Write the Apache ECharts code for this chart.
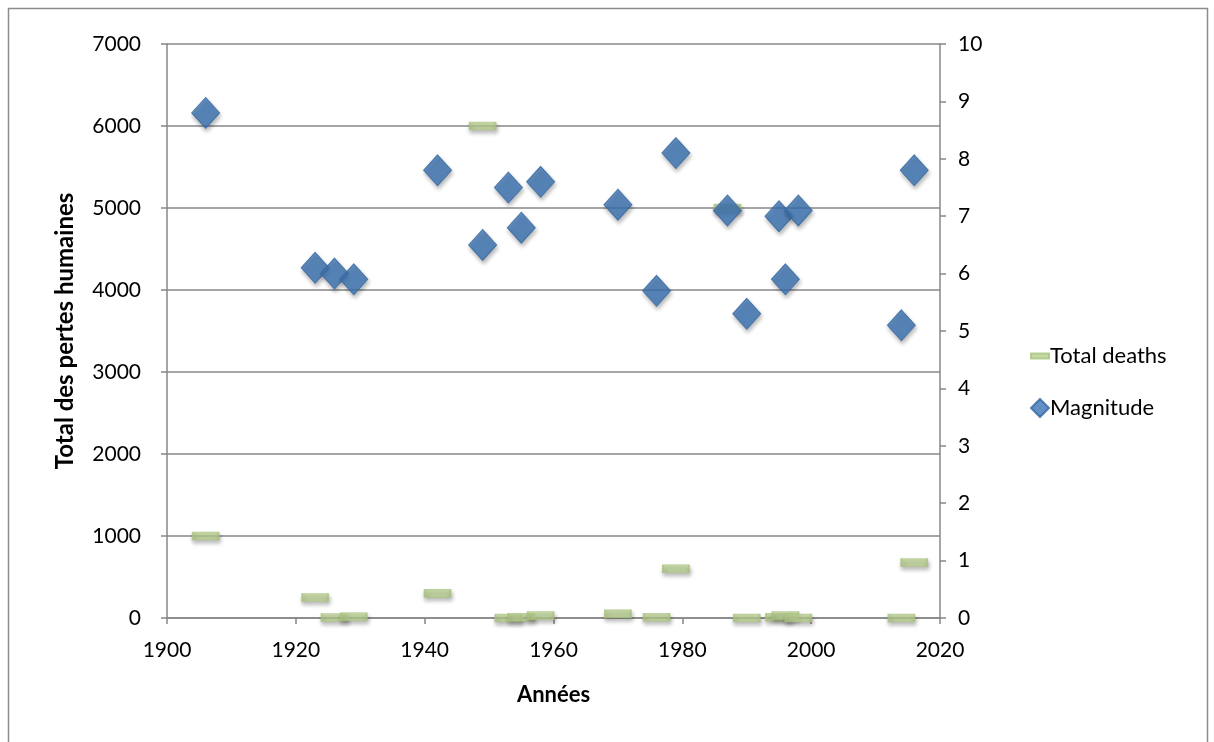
<!DOCTYPE html>
<html>
<head>
<meta charset="utf-8">
<script src="https://cdn.jsdelivr.net/npm/echarts@6/dist/echarts.min.js"></script>
<style>
html,body{margin:0;padding:0;background:#fff;}
#chart{width:1214px;height:742px;}
</style>
</head>
<body>
<div id="chart"></div>
<script>
const years = [1906,1923,1926,1929,1942,1949,1953,1955,1958,1970,1976,1979,1987,1990,1995,1996,1998,2014,2016];
const totalDeaths = [1000,250,5,15,300,6000,0,10,30,50,10,600,5000,0,10,30,0,0,676];
const magnitude = [8.8,6.1,6.0,5.9,7.8,6.5,7.5,6.8,7.6,7.2,5.7,8.1,7.1,5.3,7.0,5.9,7.1,5.1,7.8];
const seriesNames = ['Total deaths','Magnitude'];
const xTitle = 'Années';
const yTitle = 'Total des pertes humaines';

const deathsData = years.map((y,i)=>[y,totalDeaths[i]]);
const magData = years.map((y,i)=>[y,magnitude[i]]);

const FONT = 'Lato, "Open Sans", sans-serif';
const axisGray = '#878787';
const plain = v => String(v);

const chart = echarts.init(document.getElementById('chart'));
chart.setOption({
  animation:false,
  textStyle:{fontFamily:FONT},
  graphic:[{
    type:'rect',
    shape:{x:8.5,y:8.5,width:1199,height:760},
    style:{fill:'none',stroke:'#8c8c8c',lineWidth:1.5},
    silent:true
  }],
  grid:{left:167,right:274,top:44,bottom:124},
  legend:{
    orient:'vertical',
    left:1025,
    top:340,
    itemGap:30,
    itemWidth:18,
    itemHeight:18,
    textStyle:{fontSize:22,color:'#000',fontFamily:FONT,padding:[0,0,0,-4]},
    data:[
      {name:seriesNames[0],icon:'path://M0,0 L18,0 L18,5 L0,5 Z',itemStyle:{color:'#b8cf8f'}},
      {name:seriesNames[1],icon:'diamond',itemStyle:{color:'#3c74b4'}}
    ]
  },
  xAxis:{
    type:'value',
    min:1900,max:2020,interval:20,
    name:xTitle,
    nameLocation:'middle',
    nameGap:66,
    nameTextStyle:{fontSize:22,fontWeight:'bold',color:'#000',fontFamily:FONT},
    axisLine:{show:true,lineStyle:{color:axisGray,width:1.5}},
    axisTick:{show:true,length:6,lineStyle:{color:axisGray,width:1.5}},
    axisLabel:{fontSize:21,color:'#000',margin:22,fontFamily:FONT,formatter:plain},
    splitLine:{show:false}
  },
  yAxis:[{
    type:'value',
    min:0,max:7000,interval:1000,
    name:yTitle,
    nameLocation:'middle',
    nameGap:90,
    nameRotate:90,
    nameTextStyle:{fontSize:24,fontWeight:'bold',color:'#000',fontFamily:FONT},
    axisLine:{show:true,lineStyle:{color:axisGray,width:1.5}},
    axisTick:{show:true,length:6,lineStyle:{color:axisGray,width:1.5}},
    axisLabel:{fontSize:21,color:'#000',margin:26,fontFamily:FONT,formatter:plain},
    splitLine:{show:true,lineStyle:{color:axisGray,width:1.5}}
  },{
    type:'value',
    min:0,max:10,interval:1,
    position:'right',
    axisLine:{show:true,lineStyle:{color:axisGray,width:1.5}},
    axisTick:{show:true,length:6,lineStyle:{color:axisGray,width:1.5}},
    axisLabel:{fontSize:21,color:'#000',margin:18,fontFamily:FONT,formatter:plain},
    splitLine:{show:false}
  }],
  series:[{
    name:seriesNames[0],
    type:'scatter',
    yAxisIndex:0,
    symbol:'rect',
    symbolSize:[26,8],
    itemStyle:{
      color:'#b9cf91',
      borderColor:'#a9c27d',
      borderWidth:1,
      shadowBlur:4,
      shadowOffsetX:1,
      shadowOffsetY:3,
      shadowColor:'rgba(0,0,0,0.35)'
    },
    data:deathsData,
    z:2
  },{
    name:seriesNames[1],
    type:'scatter',
    yAxisIndex:1,
    symbol:'diamond',
    symbolSize:[28,31],
    itemStyle:{
      color:'#3c74b4',
      borderColor:'#3468a3',
      borderWidth:1,
      shadowBlur:4,
      shadowOffsetX:1,
      shadowOffsetY:3,
      shadowColor:'rgba(0,0,0,0.35)'
    },
    data:magData,
    z:3
  }]
});
</script>
</body>
</html>
